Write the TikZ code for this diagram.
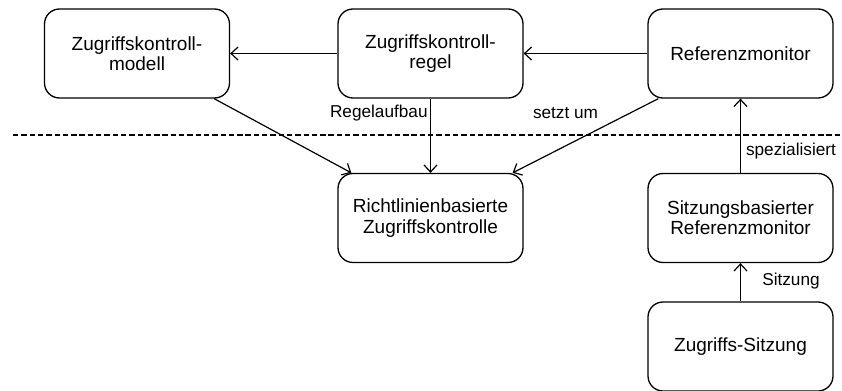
\documentclass[tikz,border=0pt]{standalone}
\usepackage{fontspec}
\setmainfont{Liberation Sans}
\usetikzlibrary{arrows.meta,calc}
\tikzset{
  box/.style={draw, line width=0.65pt, rounded corners=7.5pt,
    minimum width=92.5pt, minimum height=44.5pt, align=center,
    inner sep=2pt, font=\fontsize{9.5}{10.2}\selectfont},
  link/.style={line width=0.6pt, -{Straight Barb[length=3.5pt,width=6.5pt,line width=0.6pt]}},
  tag/.style={font=\fontsize{8.6}{10}\selectfont, inner sep=0pt},
  layerline/.style={line width=1.25pt, dash pattern=on 2.7pt off 1.45pt},
}
\begin{document}
\begin{tikzpicture}[x=0.5pt,y=-0.5pt]
  \useasboundingbox (0,0) rectangle (842,391);

  % upper layer
  \node[box] (modell) at (137,53.5) {Zugriffskontroll-\\modell};
  \node[box] (regel) at (430.5,53.5) {Zugriffskontroll-\\regel};
  \node[box] (monitor) at (740.5,53.5) {Referenzmonitor};

  % separator between the layers
  \coordinate (sepL) at (13,135);
  \coordinate (sepR) at (840,135);
  \draw[layerline] (sepL) -- (sepR);

  % lower layer
  \node[box] (rbac) at (430.5,218) {Richtlinienbasierte\\Zugriffskontrolle};
  \node[box] (sitzmon) at (740.5,218) {Sitzungsbasierter\\Referenzmonitor};
  \node[box] (sitzung) at (740.5,346.5) {Zugriffs-Sitzung};

  % connectors
  \draw[link] (regel) -- (modell);
  \draw[link] (monitor) -- (regel);
  \draw[link] ($(modell.south east)+(-16,0)$) -- ($(rbac.north west)+(14,0)$);
  \draw[link] (regel) -- (rbac);
  \draw[link] ($(monitor.south west)+(11,0)$) -- ($(rbac.north east)+(-11,0)$);
  \draw[link] (sitzmon) -- (monitor);
  \draw[link] (sitzung) -- (sitzmon);

  % connector labels
  \node[tag, anchor=east] (laufbau) at (428,113) {Regelaufbau};
  \node[tag] (lsetzt) at (565.5,113) {setzt um};
  \node[tag] (lspez) at (791,151) {spezialisiert};
  \node[tag] (lsitz) at (791,281) {Sitzung};
\end{tikzpicture}
\end{document}
